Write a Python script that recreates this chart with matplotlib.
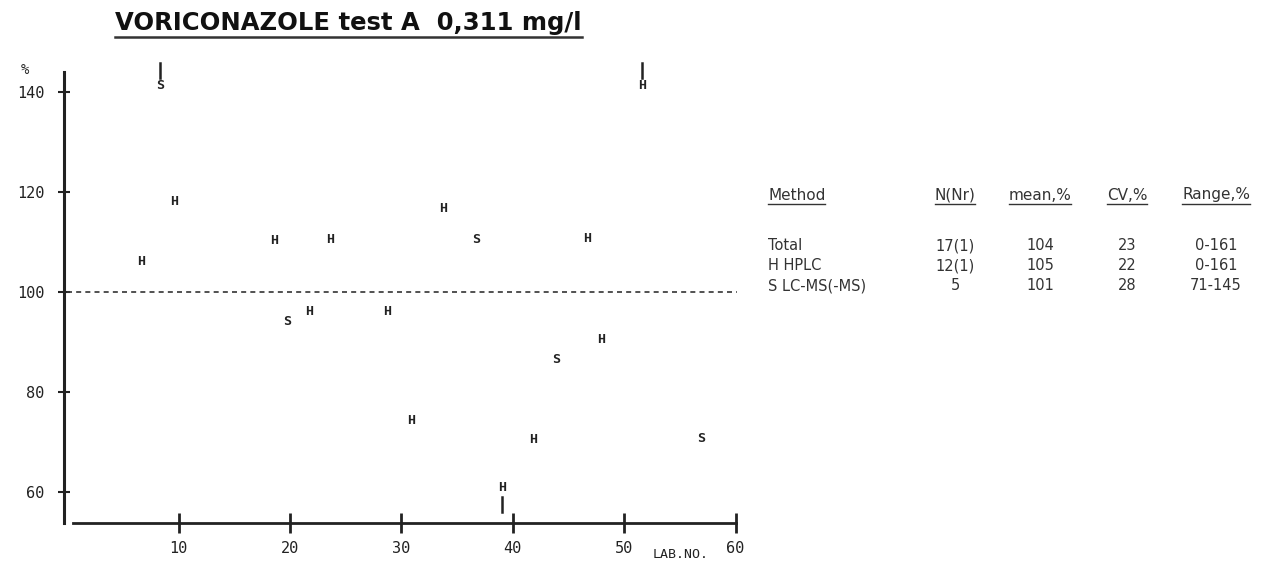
import matplotlib.pyplot as plt
from matplotlib.lines import Line2D

# lab numbers and results (% of target)
h_labs = [6.6, 9.6, 18.6, 21.7, 23.6, 28.7, 30.9, 33.7, 39.0, 41.8, 46.7, 47.9, 51.6]
h_vals = [106, 118, 110.3, 96, 110.4, 96, 74.3, 116.7, 0, 70.4, 110.7, 90.5, 161]
s_labs = [8.3, 19.7, 36.7, 43.9, 56.9]
s_vals = [145, 94, 110.4, 86.5, 70.6]

target = 100
y_ticks = [60, 80, 100, 120, 140]
x_ticks = [10, 20, 30, 40, 50, 60]

title = "VORICONAZOLE test A  0,311 mg/l"
headers = ["Method", "N(Nr)", "mean,%", "CV,%", "Range,%"]
rows = [
    ["Total", "17(1)", "104", "23", "0-161"],
    ["H HPLC", "12(1)", "105", "22", "0-161"],
    ["S LC-MS(-MS)", "5", "101", "28", "71-145"],
]

Y_HI, Y_LO = 141.2, 60.8  # where out-of-range results are drawn
INK = "#222222"


def draw_letters(ax, labs, vals, letter):
    for x, v in zip(labs, vals):
        y = min(max(v, Y_LO), Y_HI)
        ax.text(x, y, letter, ha="center", va="center", fontsize=9.5,
                family="DejaVu Sans Mono", fontweight="bold", color=INK,
                clip_on=False)
        if v > Y_HI:
            ax.plot([x, x], [y + 1.7, y + 4.6], color=INK, lw=1.8, clip_on=False)
        elif v < Y_LO:
            ax.plot([x, x], [y - 1.7, y - 4.8], color=INK, lw=1.8, clip_on=False)


def underline(fig, txt, pad=2, lw=1.2):
    r = fig.canvas.get_renderer()
    bb = txt.get_window_extent(renderer=r)
    W, H = fig.bbox.width, fig.bbox.height
    y = (bb.y0 - pad) / H
    fig.add_artist(Line2D([bb.x0 / W, bb.x1 / W], [y, y], color="#333333", lw=lw))


def main():
    fig = plt.figure(figsize=(12.7, 5.63), dpi=100)
    ax = fig.add_axes([64 / 1270, 40 / 563, 676 / 1270, 451 / 563])

    ax.set_xlim(-0.3, 60.4)
    ax.set_ylim(53.8, 144)

    for side in ["top", "right"]:
        ax.spines[side].set_visible(False)
    ax.spines["left"].set_linewidth(2.2)
    ax.spines["bottom"].set_linewidth(2.0)
    ax.spines["left"].set_color(INK)
    ax.spines["bottom"].set_color(INK)
    ax.spines["bottom"].set_bounds(0.5, 60)

    ax.set_yticks(y_ticks)
    ax.set_xticks(x_ticks)
    ax.tick_params(axis="y", direction="inout", length=8, width=1.5, pad=10,
                   labelsize=11, colors=INK)
    ax.tick_params(axis="x", direction="inout", length=14, width=2, pad=6,
                   labelsize=11, colors=INK)
    for lab in ax.get_xticklabels() + ax.get_yticklabels():
        lab.set_family("DejaVu Sans Mono")

    ax.axhline(target, xmin=0.005, xmax=0.995, color="#333333", lw=1.2,
               ls=(0, (3, 2.5)))

    draw_letters(ax, h_labs, h_vals, "H")
    draw_letters(ax, s_labs, s_vals, "S")

    fig.text(25 / 1270, 1 - 70 / 563, "%", fontsize=10, family="DejaVu Sans Mono",
             ha="center", va="center", color=INK)
    fig.text(681 / 1270, 1 - 554 / 563, "LAB.NO.", fontsize=9.5,
             family="DejaVu Sans Mono", ha="center", va="center", color=INK)

    t = fig.text(115 / 1270, 1 - 23 / 563, title, fontsize=17.5, fontweight="bold",
                 family="DejaVu Sans", ha="left", va="center", color="#111111")

    # stats table on the right
    col_x = [768, 955, 1040, 1127, 1216]
    col_ha = ["left", "center", "center", "center", "center"]
    head_objs = []
    for x, ha, h in zip(col_x, col_ha, headers):
        head_objs.append(fig.text(x / 1270, 1 - 195 / 563, h, fontsize=11,
                                  family="DejaVu Sans", ha=ha, va="center",
                                  color="#333333"))
    for i, row in enumerate(rows):
        y = 246 + 20 * i
        for x, ha, val in zip(col_x, col_ha, row):
            fig.text(x / 1270, 1 - y / 563, val, fontsize=10.5,
                     family="DejaVu Sans", ha=ha, va="center", color="#333333")

    fig.canvas.draw()
    underline(fig, t, pad=2, lw=1.8)
    for h in head_objs:
        underline(fig, h, pad=1, lw=1.0)

    fig.savefig("out.png", dpi=100, facecolor="white")
    plt.close(fig)


if __name__ == "__main__":
    main()
